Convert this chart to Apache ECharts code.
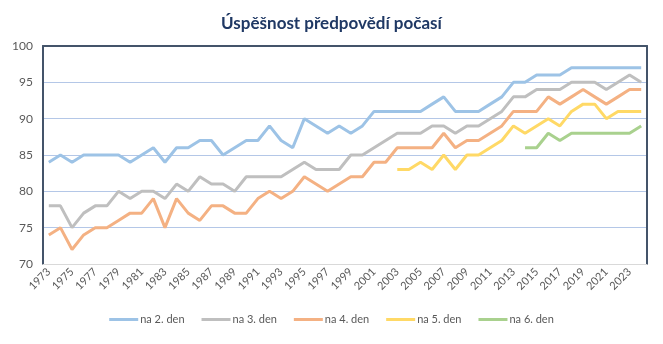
<!DOCTYPE html>
<html><head><meta charset="utf-8">
<script src="https://cdn.jsdelivr.net/npm/echarts@6/dist/echarts.min.js"></script>
<style>html,body{margin:0;padding:0;background:#fff}#c{width:663px;height:344px}</style>
</head><body><div id="c"></div>
<script>
var years = [];
for (var y = 1973; y <= 2024; y++) years.push(String(y));
var seriesNames = ['na 2. den','na 3. den','na 4. den','na 5. den','na 6. den'];
var den2 = [84,85,84,85,85,85,85,84,85,86, 84,86,86,87,87,85,86,87,87,89, 87,86,90,89,88,89,88,89,91,91, 91,91,91,92,93,91,91,91,92,93, 95,95,96,96,96,97,97,97,97,97, 97,97];
var den3 = [78,78,75,77,78,78,80,79,80,80, 79,81,80,82,81,81,80,82,82,82, 82,83,84,83,83,83,85,85,86,87, 88,88,88,89,89,88,89,89,90,91, 93,93,94,94,94,95,95,95,94,95, 96,95];
var den4 = [74,75,72,74,75,75,76,77,77,79, 75,79,77,76,78,78,77,77,79,80, 79,80,82,81,80,81,82,82,84,84, 86,86,86,86,88,86,87,87,88,89, 91,91,91,93,92,93,94,93,92,93, 94,94];
var den5 = [null,null,null,null,null,null,null,null,null,null, null,null,null,null,null,null,null,null,null,null, null,null,null,null,null,null,null,null,null,null, 83,83,84,83,85,83,85,85,86,87, 89,88,89,90,89,91,92,92,90,91, 91,91];
var den6 = [null,null,null,null,null,null,null,null,null,null, null,null,null,null,null,null,null,null,null,null, null,null,null,null,null,null,null,null,null,null, null,null,null,null,null,null,null,null,null,null, null,86,86,88,87,88,88,88,88,88, 88,89];
var yTicks = [70,75,80,85,90,95,100];
var colors = ['#9dc3e6','#bfbfbf','#f4b183','#ffd966','#a9d18e'];
var dataSets = [den2, den3, den4, den5, den6];

var chart = echarts.init(document.getElementById('c'), null, {renderer:'canvas'});
var series = dataSets.map(function(d, i){
  return {name: seriesNames[i], type:'line', data:d, symbol:'none', showSymbol:false,
    lineStyle:{width:3, color:colors[i]}, itemStyle:{color:colors[i]}, connectNulls:false, z: 5 - i};
});
chart.setOption({
  animation:false,
  color: colors,
  title:{text:'Úspěšnost předpovědí počasí', left:'center', top:10,
    textStyle:{fontFamily:'Lato', fontSize:17, fontWeight:'bold', color:'#1f3864'}},
  legend:{bottom:14, left:'center', itemWidth:29, itemHeight:3, itemGap:17, icon:'rect',
    data: seriesNames.map(function(n,i){return {name:n, itemStyle:{color:colors[i]}};}),
    textStyle:{fontFamily:'Lato', fontSize:11, color:'#595959', padding:[0,0,0,-3]}},
  grid:{left:43, right:16, top:46, bottom:80, containLabel:false},
  xAxis:[{type:'category', data:years, boundaryGap:true,
    axisLine:{show:true, lineStyle:{color:'#d9d9d9', width:1}},
    axisTick:{show:false},
    axisLabel:{interval:1, rotate:45, fontFamily:'Lato', fontSize:11, color:'#595959', margin:6}},
    {type:'category', data:years, position:'top', boundaryGap:true,
    axisLine:{show:true, lineStyle:{color:'#44546a', width:2}}, axisTick:{show:false}, axisLabel:{show:false}}],
  yAxis:[{type:'value', min:yTicks[0], max:yTicks[yTicks.length-1], interval:5,
    axisLine:{show:true, lineStyle:{color:'#44546a', width:2}},
    axisTick:{show:false},
    axisLabel:{fontFamily:'Lato', fontSize:12, color:'#595959', margin:10},
    splitLine:{show:true, lineStyle:{color:'#b4c7e7', width:1}}},
    {type:'value', min:yTicks[0], max:yTicks[yTicks.length-1], interval:5, position:'right',
    axisLine:{show:true, lineStyle:{color:'#44546a', width:2}}, axisTick:{show:false},
    axisLabel:{show:false}, splitLine:{show:false}}],
  series: series
});
</script></body></html>
